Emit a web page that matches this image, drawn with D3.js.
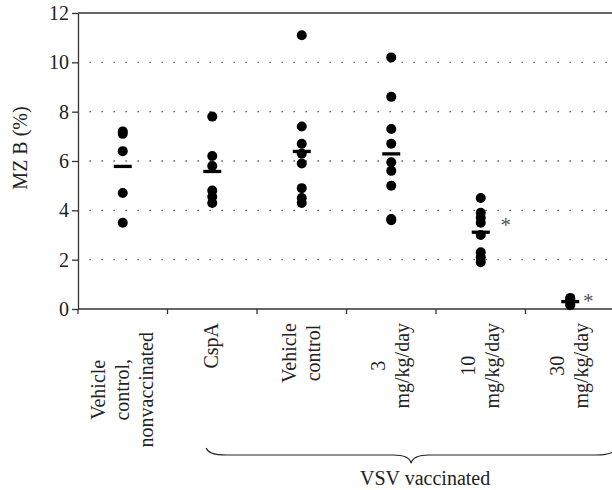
<!DOCTYPE html>
<html>
<head>
<meta charset="utf-8">
<script src="https://cdn.jsdelivr.net/npm/d3@7"></script>
<style>
body { margin: 0; background: #fff; }
text { font-family: "Liberation Serif", "Times New Roman", serif; fill: #222; }
</style>
</head>
<body>
<script>
//Data
const categories = ["Vehicle control, nonvaccinated", "CspA", "Vehicle control", "3 mg/kg/day", "10 mg/kg/day", "30 mg/kg/day"];
const labelLines = [["Vehicle", "control,", "nonvaccinated"], ["CspA"], ["Vehicle", "control"], ["3", "mg/kg/day"], ["10", "mg/kg/day"], ["30", "mg/kg/day"]];
const vehicleNonvacc = [7.2, 7.1, 6.4, 4.7, 3.5];
const cspA = [7.8, 6.2, 5.8, 4.8, 4.55, 4.3];
const vehicleControl = [11.1, 7.4, 6.7, 6.3, 5.9, 4.9, 4.5, 4.3];
const dose3 = [10.2, 8.6, 7.3, 6.7, 5.95, 5.6, 5.0, 3.65, 3.6];
const dose10 = [4.5, 3.9, 3.7, 3.5, 3.0, 2.3, 2.1, 1.9];
const dose30 = [0.45, 0.4, 0.3, 0.2, 0.15];
const significant = [false, false, false, false, true, true];
const yTicks = [0, 2, 4, 6, 8, 10, 12];
const groupLabel = "VSV vaccinated";
const yLabel = "MZ B (%)";

const allValues = [vehicleNonvacc, cspA, vehicleControl, dose3, dose10, dose30];

//Layout
const width = 612;
const height = 490;
const plotLeft = 78;
const plotRight = 615;
const plotTop = 13;
const plotBottom = 309;
const fontSize = "20px";

const svg = d3.select("body")
    .append("svg")
    .attr("width", width)
    .attr("height", height);

//Scales
const xScale = d3.scaleBand()
    .domain(categories)
    .range([plotLeft, plotRight]);

const yScale = d3.scaleLinear()
    .domain([0, 12])
    .range([plotBottom, plotTop]);

const center = c => xScale(c) + xScale.bandwidth() / 2;

//Dotted gridlines
svg.selectAll(".grid")
    .data(yTicks.filter(t => t > 0 && t < 12))
    .join("line")
    .attr("class", "grid")
    .attr("x1", plotLeft + 11.5)
    .attr("x2", width)
    .attr("y1", d => yScale(d))
    .attr("y2", d => yScale(d))
    .attr("stroke", "#444")
    .attr("stroke-width", 1.3)
    .attr("stroke-dasharray", "1.3,10.7");

//Top border
svg.append("line")
    .attr("x1", plotLeft)
    .attr("x2", width)
    .attr("y1", yScale(12))
    .attr("y2", yScale(12))
    .attr("stroke", "#333")
    .attr("stroke-width", 1.3);

//Left axis
const leftAxis = d3.axisLeft(yScale)
    .tickValues(yTicks)
    .tickSize(6)
    .tickSizeOuter(0)
    .tickPadding(3);

const gy = svg.append("g")
    .attr("transform", "translate(" + plotLeft + ",0)")
    .call(leftAxis);
gy.attr("font-family", null);
gy.select(".domain").attr("stroke", "#333").attr("stroke-width", 1.3);
gy.selectAll(".tick line").attr("stroke", "#333").attr("stroke-width", 1.3);
gy.selectAll(".tick text")
    .style("font-family", "'Liberation Serif', serif")
    .style("font-size", fontSize)
    .attr("fill", "#222");

//Bottom axis, ticks on band edges
svg.append("line")
    .attr("x1", plotLeft)
    .attr("x2", width)
    .attr("y1", plotBottom)
    .attr("y2", plotBottom)
    .attr("stroke", "#333")
    .attr("stroke-width", 1.3);

svg.selectAll(".xtick")
    .data(categories.map(c => xScale(c)).concat([plotRight]))
    .join("line")
    .attr("class", "xtick")
    .attr("x1", d => d)
    .attr("x2", d => d)
    .attr("y1", plotBottom)
    .attr("y2", plotBottom + 5)
    .attr("stroke", "#333")
    .attr("stroke-width", 1.3);

//Points and mean bars
categories.forEach((c, i) => {
    const vals = allValues[i];
    svg.selectAll(".pt" + i)
        .data(vals)
        .join("circle")
        .attr("class", "pt" + i)
        .attr("cx", center(c))
        .attr("cy", d => yScale(d))
        .attr("r", 5)
        .attr("fill", "#000");

    const m = d3.mean(vals);
    svg.append("line")
        .attr("x1", center(c) - 9)
        .attr("x2", center(c) + 9)
        .attr("y1", yScale(m))
        .attr("y2", yScale(m))
        .attr("stroke", "#000")
        .attr("stroke-width", 3.3);
});

//Significance asterisks
const asteriskOffset = {4: [25, -11], 5: [18, -5]};
categories.forEach((c, i) => {
    if (!significant[i]) return;
    const off = asteriskOffset[i];
    svg.append("text")
        .attr("x", center(c) + off[0])
        .attr("y", yScale(d3.mean(allValues[i])) + off[1] + 11)
        .attr("text-anchor", "middle")
        .style("font-size", "21px")
        .style("fill", "#555")
        .text("*");
});

//Category labels, rotated
labelLines.forEach((lines, i) => {
    const cx = center(categories[i]);
    const texts = lines.map(ln => svg.append("text")
        .attr("text-anchor", "middle")
        .style("font-size", fontSize)
        .text(ln));
    const maxLen = d3.max(texts, t => t.node().getComputedTextLength());
    const topY = i === 0 ? 332 : 323;
    const cy = topY + maxLen / 2;
    texts.forEach((t, j) => {
        const bx = cx + (j - (lines.length - 1) / 2) * 24 + 6;
        t.attr("transform", "translate(" + bx + "," + cy + ") rotate(-90)");
    });
});

//Y label
svg.append("text")
    .attr("transform", "translate(27,148) rotate(-90)")
    .attr("text-anchor", "middle")
    .style("font-size", fontSize)
    .text(yLabel);

//Brace under vaccinated groups
const bx0 = center(categories[1]) - 6;
const bx1 = plotRight + 1;
const bMid = (bx0 + bx1) / 2;
const by = 455;
const brace = d3.path();
brace.moveTo(bx0, by - 7);
brace.quadraticCurveTo(bx0 + 2, by, bx0 + 20, by);
brace.lineTo(bMid - 18, by);
brace.quadraticCurveTo(bMid - 2, by, bMid, by + 8);
brace.quadraticCurveTo(bMid + 2, by, bMid + 18, by);
brace.lineTo(bx1 - 20, by);
brace.quadraticCurveTo(bx1 - 2, by, bx1, by - 7);

svg.append("path")
    .attr("d", brace.toString())
    .attr("fill", "none")
    .attr("stroke", "#222")
    .attr("stroke-width", 1.2);

svg.append("text")
    .attr("x", bMid + 14)
    .attr("y", 485)
    .attr("text-anchor", "middle")
    .style("font-size", fontSize)
    .text(groupLabel);
</script>
</body>
</html>
